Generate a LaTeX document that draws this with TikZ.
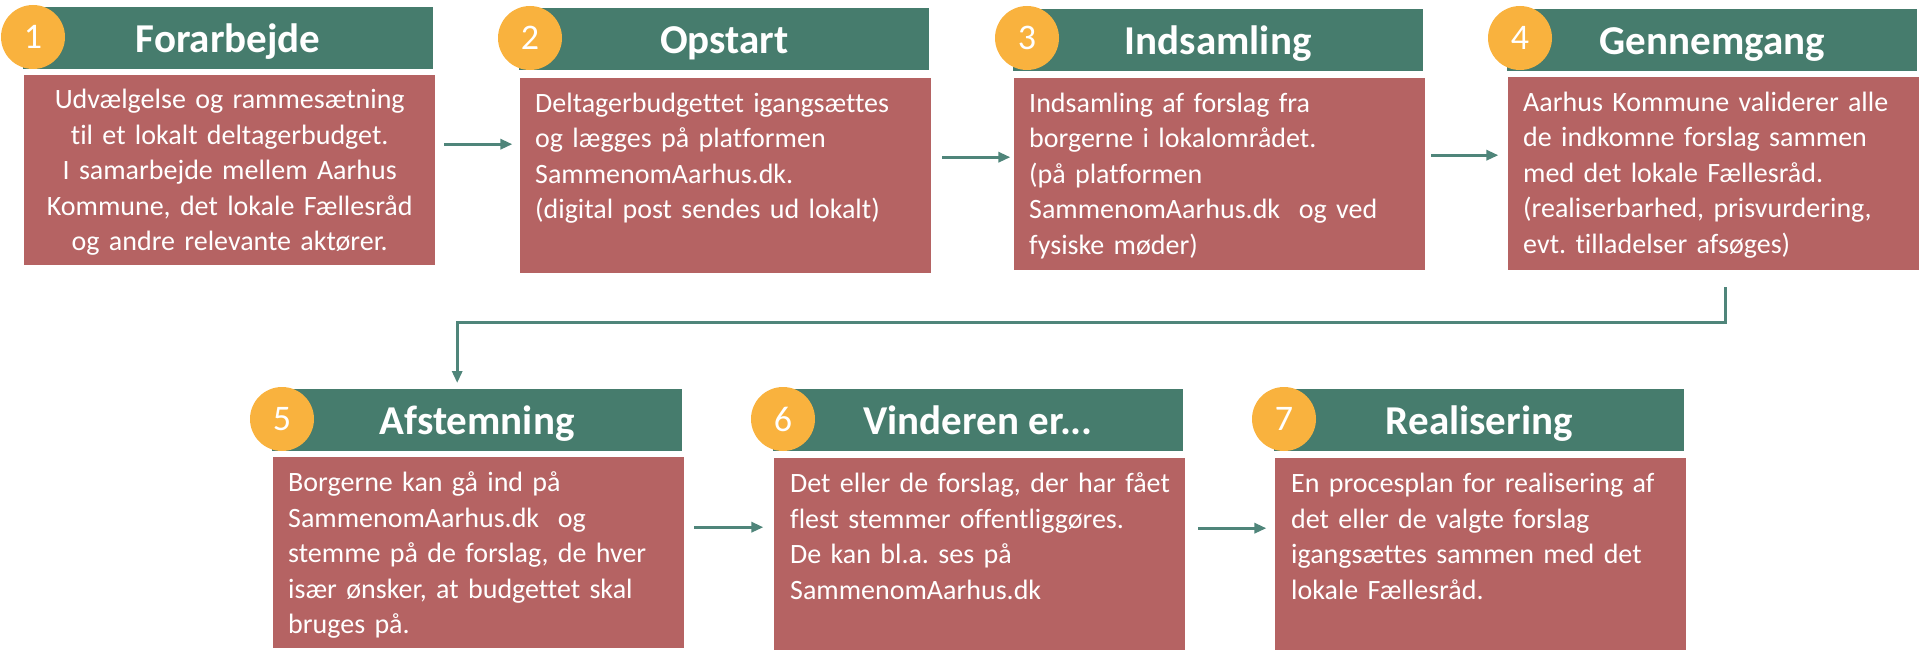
\documentclass[tikz,border=0pt]{standalone}
\usepackage{fontspec}
\setmainfont{Carlito}[RawFeature={-liga;-clig;-calt;-dlig}]
\usepackage{tikz}
\usetikzlibrary{positioning, arrows.meta}
\frenchspacing
\definecolor{hdgreen}{RGB}{70, 124, 109}
\definecolor{bdred}{RGB}{181, 99, 99}
\definecolor{numorange}{RGB}{249, 178, 62}
\definecolor{arrgreen}{RGB}{79, 133, 122}
\tikzset{
    stephead/.style={rectangle, fill=hdgreen, inner sep=0pt, minimum width=410pt, text height=45pt, text depth=17pt, text=white, font=\fontsize{41}{49}\selectfont\bfseries, anchor=north west},
    stepbody/.style={rectangle, fill=bdred, inner sep=0pt, minimum width=411pt, anchor=north west},
    bodytext/.style={inner sep=0pt, text width=395pt, align=left, text=white, font=\fontsize{28}{35.5}\selectfont, anchor=base west},
    stepnum/.style={circle, fill=numorange, inner sep=0pt, minimum size=64pt, text=white, font=\fontsize{36}{40}\selectfont},
    flowarrow/.style={draw=arrgreen, line width=3pt, -{Triangle[length=12pt, width=10pt]}}
}
\begin{document}
\begin{tikzpicture}[x=1pt, y=-1pt]
                    \useasboundingbox (0,0) rectangle (1919,658);

                    \node[stephead] (h1) at (23,7) {Forarbejde};
                    \node[stephead] (h2) at (519,8) {Opstart};
                    \node[stephead] (h3) at (1013,9) {Indsamling};
                    \node[stephead] (h4) at (1507,9) {Gennemgang};
                    \node[stephead] (h5) at (272,389) {Afstemning};
                    \node[stephead] (h6) at (773,389) {Vinderen er...};
                    \node[stephead] (h7) at (1274,389) {Realisering};

                    \node[stepnum] (c1) at (33,37) {1};
                    \node[stepnum] (c2) at (530,38) {2};
                    \node[stepnum] (c3) at (1027,38) {3};
                    \node[stepnum] (c4) at (1520,38) {4};
                    \node[stepnum] (c5) at (282,419) {5};
                    \node[stepnum] (c6) at (783,419) {6};
                    \node[stepnum] (c7) at (1284,419) {7};

                    \node[stepbody, minimum height=190pt] (b1) at (24,75) {};
                    \node[stepbody, minimum height=195pt] (b2) at (520,78) {};
                    \node[stepbody, minimum height=192pt] (b3) at (1014,78) {};
                    \node[stepbody, minimum height=193pt] (b4) at (1508,77) {};
                    \node[stepbody, minimum height=191pt] (b5) at (273,457) {};
                    \node[stepbody, minimum height=192pt] (b6) at (774,458) {};
                    \node[stepbody, minimum height=192pt] (b7) at (1275,458) {};

                    \node[bodytext, align=center, anchor=base] (d1) at ([shift={(0,34)}]b1.north) {Udvælgelse og rammesætning\\til et lokalt deltagerbudget.\\I samarbejde mellem Aarhus\\Kommune, det lokale Fællesråd\\og andre relevante aktører.};
                    \node[bodytext] (d2) at ([shift={(15,34.5)}]b2.north west) {Deltagerbudgettet igangsættes\\og lægges på platformen\\SammenomAarhus.dk.\\(digital post sendes ud lokalt)};
                    \node[bodytext] (d3) at ([shift={(15,34.5)}]b3.north west) {Indsamling af forslag fra\\borgerne i lokalområdet.\\(på platformen\\SammenomAarhus.dk\ \ og ved\\fysiske møder)};
                    \node[bodytext] (d4) at ([shift={(15,34.5)}]b4.north west) {Aarhus Kommune validerer alle\\de indkomne forslag sammen\\med det lokale Fællesråd.\\(realiserbarhed, prisvurdering,\\evt. tilladelser afsøges)};
                    \node[bodytext] (d5) at ([shift={(15,34.5)}]b5.north west) {Borgerne kan gå ind på\\SammenomAarhus.dk\ \ og\\stemme på de forslag, de hver\\især ønsker, at budgettet skal\\bruges på.};
                    \node[bodytext] (d6) at ([shift={(16,34.5)}]b6.north west) {Det eller de forslag, der har fået\\flest stemmer offentliggøres.\\De kan bl.a. ses på\\SammenomAarhus.dk};
                    \node[bodytext] (d7) at ([shift={(16,34.5)}]b7.north west) {En procesplan for realisering af\\det eller de valgte forslag\\igangsættes sammen med det\\lokale Fællesråd.};

                    \draw[flowarrow] ([shift={(9,-26)}]b1.east) -- ++(68,0);
                    \draw[flowarrow] ([shift={(11,-18.5)}]b2.east) -- ++(68,0);
                    \draw[flowarrow] ([shift={(6,-19)}]b3.east) -- ++(67,0);
                    \draw[flowarrow] ([shift={(12,17)}]b4.south) -- ++(0,35) -| ([shift={(-20,-6)}]h5.north);
                    \draw[flowarrow] ([shift={(10,-25.5)}]b5.east) -- ++(69,0);
                    \draw[flowarrow] ([shift={(13,-26)}]b6.east) -- ++(68,0);
                \end{tikzpicture}
\end{document}
